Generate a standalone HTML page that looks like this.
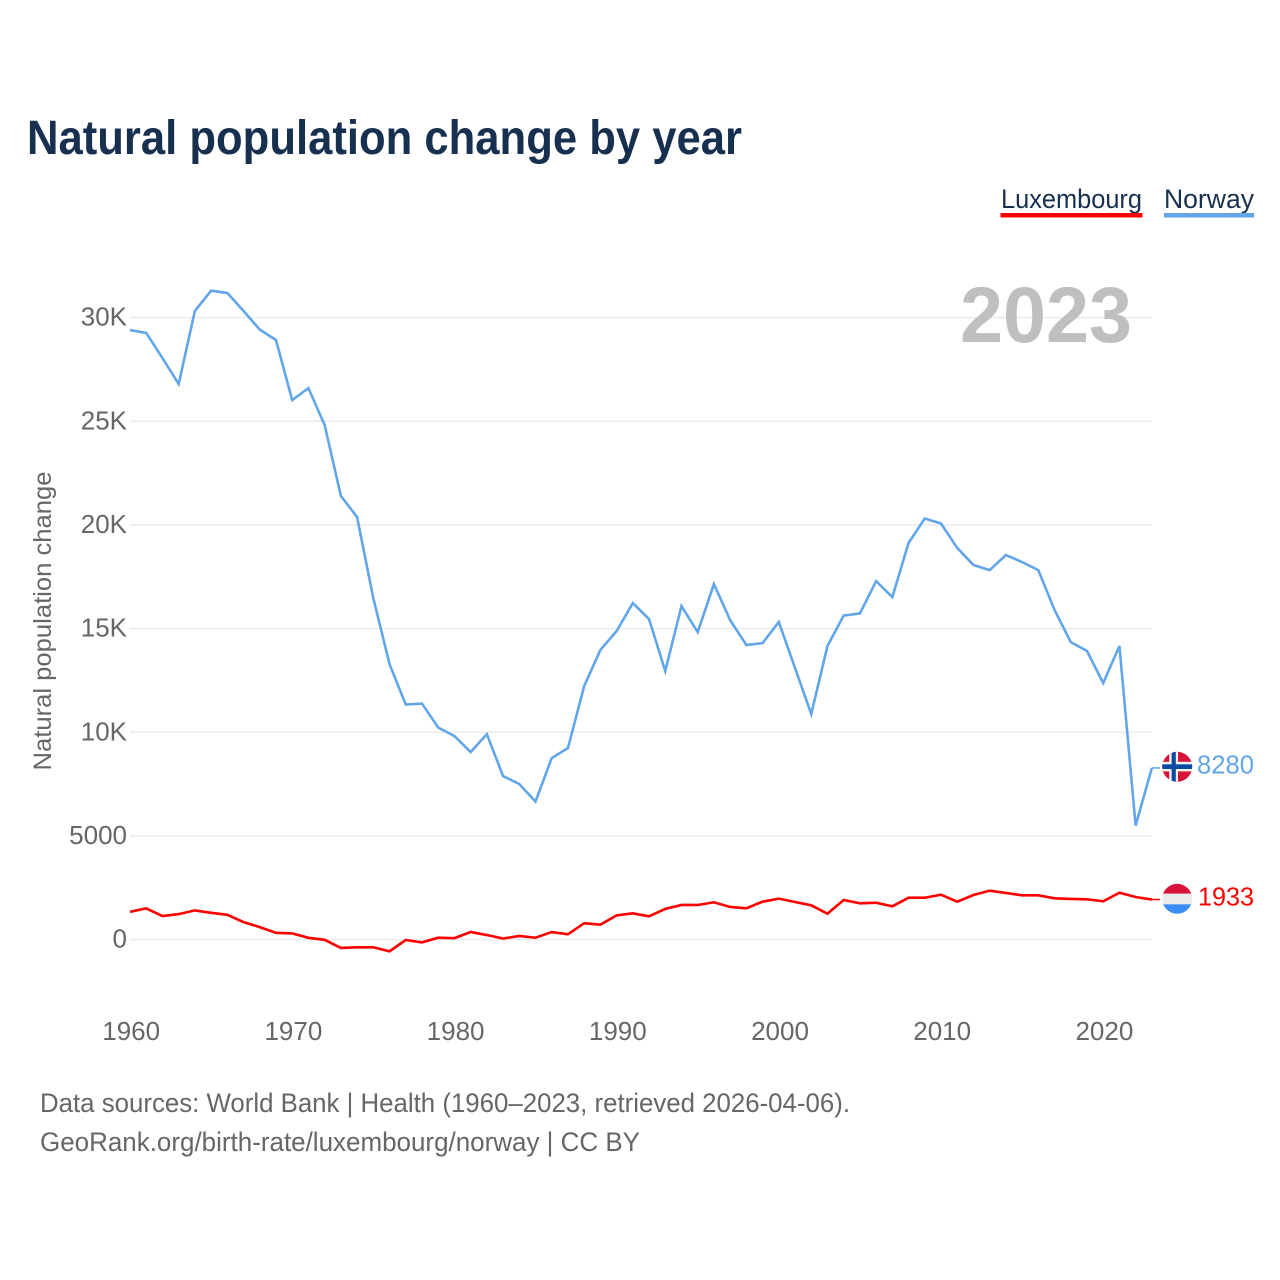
<!DOCTYPE html>
<html lang="en">
<head>
<meta charset="utf-8">
<title>Natural population change by year</title>
<style>
html,body{margin:0;padding:0;background:#fff;width:1280px;height:1280px;overflow:hidden}
svg{display:block;font-family:"Liberation Sans",sans-serif}
</style>
</head>
<body>
<svg id="chart" xmlns="http://www.w3.org/2000/svg" width="1280" height="1280" viewBox="0 0 1280 1280">
  <defs>
    <clipPath id="clip-no"><circle cx="1177.2" cy="766.8" r="15"/></clipPath>
    <clipPath id="clip-lu"><circle cx="1177.2" cy="898.8" r="15"/></clipPath>
  </defs>
  <rect width="1280" height="1280" fill="#fff"/>
  <text x="27" y="154" font-size="48" font-weight="700" fill="#18304f" textLength="715" lengthAdjust="spacingAndGlyphs">Natural population change by year</text>

  <g>
    <text x="1001" y="208" font-size="27" fill="#18304f" textLength="141" lengthAdjust="spacingAndGlyphs">Luxembourg</text>
    <rect x="1000.5" y="213" width="142" height="4.5" fill="#ff0000"/>
  </g>
  <g>
    <text x="1164" y="208" font-size="27" fill="#18304f" textLength="90" lengthAdjust="spacingAndGlyphs">Norway</text>
    <rect x="1164" y="213" width="90" height="4.5" fill="#62a6e9"/>
  </g>

  <g id="grid"></g>
  <g id="yticks"></g>
  <g id="xticks"></g>

  <text transform="translate(51,621) rotate(-90)" text-anchor="middle" font-size="25" fill="#666" textLength="299" lengthAdjust="spacingAndGlyphs">Natural population change</text>
  <text x="960" y="342" font-size="79" font-weight="700" fill="#bfbfbf" textLength="172" lengthAdjust="spacingAndGlyphs">2023</text>

  <g id="series"></g>

  <g clip-path="url(#clip-no)">
    <rect x="1162" y="751" width="31" height="32" fill="#d8133a"/>
    <rect x="1169.2" y="751" width="8.8" height="32" fill="#f4f4f4"/>
    <rect x="1162" y="761.8" width="31" height="9.6" fill="#f4f4f4"/>
    <rect x="1171.6" y="751" width="4.2" height="32" fill="#0b4aa2"/>
    <rect x="1162" y="764.3" width="31" height="4.7" fill="#0b4aa2"/>
  </g>
  <g clip-path="url(#clip-lu)">
    <rect x="1162" y="883" width="31" height="10.7" fill="#d8133a"/>
    <rect x="1162" y="893.7" width="31" height="10.6" fill="#ececec"/>
    <rect x="1162" y="904.3" width="31" height="10" fill="#3a8ef6"/>
  </g>
  <text id="label-no" x="1197" y="773.5" font-size="26" fill="#62a6e9" textLength="57" lengthAdjust="spacingAndGlyphs">8280</text>
  <text id="label-lu" x="1198" y="905.5" font-size="26" fill="#ff0000" textLength="56" lengthAdjust="spacingAndGlyphs">1933</text>

  <text x="40" y="1112" font-size="27" fill="#666" textLength="810" lengthAdjust="spacingAndGlyphs">Data sources: World Bank | Health (1960–2023, retrieved 2026-04-06).</text>
  <text x="40" y="1151" font-size="27" fill="#666" textLength="600" lengthAdjust="spacingAndGlyphs">GeoRank.org/birth-rate/luxembourg/norway | CC BY</text>
</svg>
<script>
const firstYear = 1960;
const norway = [29400,29260,28050,26800,30320,31300,31190,30320,29420,28920,26020,26600,24820,21400,20380,16470,13290,11340,11385,10230,9820,9045,9910,7890,7500,6660,8755,9240,12230,13970,14880,16230,15460,12950,16090,14830,17150,15410,14210,14300,15320,13100,10880,14160,15630,15730,17290,16520,19130,20310,20070,18890,18070,17820,18550,18210,17820,15900,14350,13920,12370,14160,5500,8280];
const luxembourg = [1340,1505,1134,1230,1408,1293,1196,844,603,328,299,87,-10,-400,-370,-370,-565,-20,-135,90,70,365,220,50,175,90,365,255,790,720,1170,1265,1125,1480,1670,1670,1800,1575,1510,1830,1975,1815,1655,1250,1910,1750,1780,1605,2020,2020,2165,1830,2150,2360,2250,2135,2135,1990,1960,1945,1850,2260,2055,1933];
const yTickValues = [0,5000,10000,15000,20000,25000,30000];
const yTickLabels = ["0","5000","10K","15K","20K","25K","30K"];
const xTickYears = [1960,1970,1980,1990,2000,2010,2020];

const NS = "http://www.w3.org/2000/svg";
const xScale = year => 130 + (year - 1960) * 16.22;
const yScale = value => 939.6 - value * 0.020733;

const grid = document.getElementById("grid");
const yticks = document.getElementById("yticks");
const xticks = document.getElementById("xticks");
const seriesGroup = document.getElementById("series");

yTickValues.forEach((value, i) => {
  const line = document.createElementNS(NS, "line");
  
  
  line.setAttribute("x1", 130);
  line.setAttribute("x2", 1152);
  line.setAttribute("y1", yScale(value));
  line.setAttribute("y2", yScale(value));
  line.setAttribute("stroke", "#ebebeb");
  line.setAttribute("stroke-width", 1.5);
  grid.appendChild(line);

  const label = document.createElementNS(NS, "text");
  
  
  label.setAttribute("x", 127);
  label.setAttribute("y", yScale(value) + 8);
  label.setAttribute("text-anchor", "end");
  label.setAttribute("font-size", 26);
  label.setAttribute("fill", "#666");
  label.textContent = yTickLabels[i];
  yticks.appendChild(label);
});

xTickYears.forEach(year => {
  const label = document.createElementNS(NS, "text");
  
  
  label.setAttribute("x", xScale(year) + 1.2);
  label.setAttribute("y", 1040);
  label.setAttribute("text-anchor", "middle");
  label.setAttribute("font-size", 26);
  label.setAttribute("fill", "#666");
  label.textContent = year;
  xticks.appendChild(label);
});

function pathFor(values) {
  return values.map((v, i) => (i ? "L" : "M") + xScale(firstYear + i).toFixed(2) + " " + yScale(v).toFixed(2)).join(" ");
}

const lineNorway = document.createElementNS(NS, "path");


lineNorway.setAttribute("d", pathFor(norway));
lineNorway.setAttribute("fill", "none");
lineNorway.setAttribute("stroke", "#62a6e9");
lineNorway.setAttribute("stroke-width", 2.6);
lineNorway.setAttribute("stroke-linejoin", "miter");
seriesGroup.appendChild(lineNorway);

const lineLux = document.createElementNS(NS, "path");


lineLux.setAttribute("d", pathFor(luxembourg));
lineLux.setAttribute("fill", "none");
lineLux.setAttribute("stroke", "#ff0000");
lineLux.setAttribute("stroke-width", 2.6);
lineLux.setAttribute("stroke-linejoin", "miter");
seriesGroup.appendChild(lineLux);

const lastYear = firstYear + norway.length - 1;

const leaderNorway = document.createElementNS(NS, "line");


leaderNorway.setAttribute("x1", xScale(lastYear));
leaderNorway.setAttribute("x2", 1160);
leaderNorway.setAttribute("y1", yScale(norway[norway.length - 1]));
leaderNorway.setAttribute("y2", yScale(norway[norway.length - 1]));
leaderNorway.setAttribute("stroke", "#62a6e9");
leaderNorway.setAttribute("stroke-width", 1.5);
seriesGroup.appendChild(leaderNorway);

const leaderLux = document.createElementNS(NS, "line");


leaderLux.setAttribute("x1", xScale(lastYear));
leaderLux.setAttribute("x2", 1160);
leaderLux.setAttribute("y1", yScale(luxembourg[luxembourg.length - 1]));
leaderLux.setAttribute("y2", yScale(luxembourg[luxembourg.length - 1]));
leaderLux.setAttribute("stroke", "#ff0000");
leaderLux.setAttribute("stroke-width", 1.5);
seriesGroup.appendChild(leaderLux);

document.getElementById("label-no").textContent = norway[norway.length - 1];
document.getElementById("label-lu").textContent = luxembourg[luxembourg.length - 1];
</script>
</body>
</html>
